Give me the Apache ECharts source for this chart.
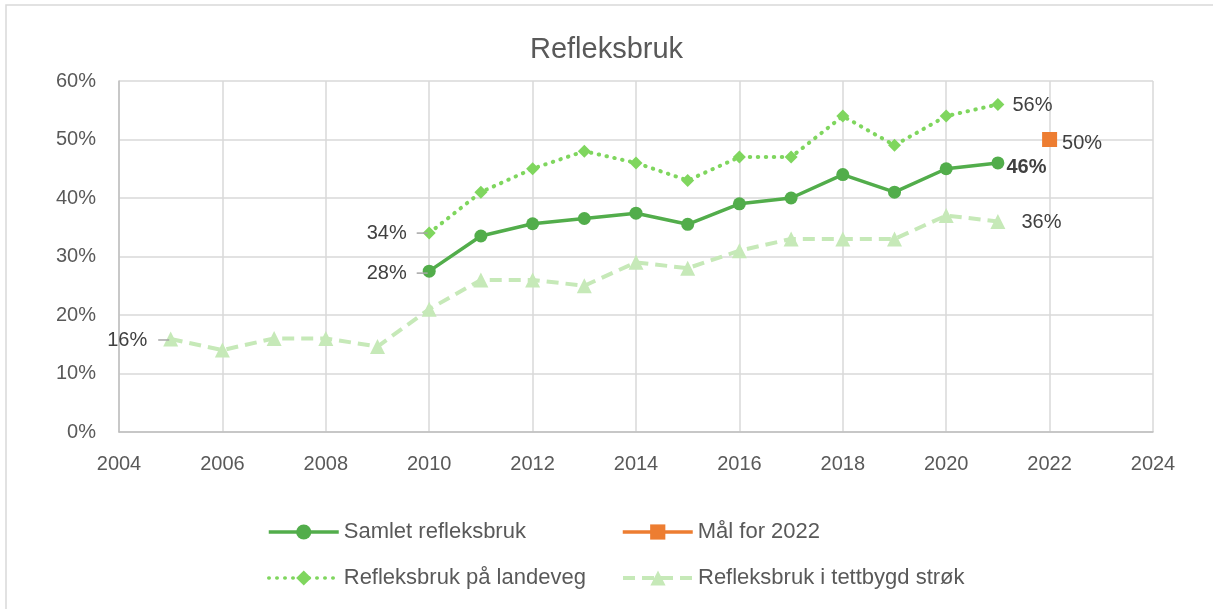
<!DOCTYPE html>
<html>
<head>
<meta charset="utf-8">
<title>Refleksbruk</title>
<script src="https://cdn.jsdelivr.net/npm/echarts@6.0.0/dist/echarts.min.js"></script>
<style>
  html, body { margin: 0; padding: 0; background: #ffffff; }
  #main { width: 1213px; height: 609px; }
</style>
</head>
<body>
<div id="main"></div>
<script>
// årstall og verdier (prosent)
var aar_samlet = [2010, 2011, 2012, 2013, 2014, 2015, 2016, 2017, 2018, 2019, 2020, 2021];
var samlet = [27.5, 33.5, 35.6, 36.5, 37.4, 35.5, 39, 40, 44, 41, 45, 46];

var aar_landeveg = [2010, 2011, 2012, 2013, 2014, 2015, 2016, 2017, 2018, 2019, 2020, 2021];
var landeveg = [34, 41, 45, 48, 46, 43, 47, 47, 54, 49, 54, 56];

var aar_tettbygd = [2005, 2006, 2007, 2008, 2009, 2010, 2011, 2012, 2013, 2014, 2015, 2016, 2017, 2018, 2019, 2020, 2021];
var tettbygd = [15.9, 14, 16, 16, 14.6, 21, 26, 26, 25, 29, 28, 31, 33, 33, 33, 37, 36];

var aar_maal = [2022];
var maal = [50];

var navn = ['Samlet refleksbruk', 'Mål for 2022', 'Refleksbruk på landeveg', 'Refleksbruk i tettbygd strøk'];

var fnt = 'Liberation Sans';

// etikett for ett punkt (strek = liten grå linje mot punktet)
function lbl(pos, dist, dy, bold, strek) {
  return {
    show: true,
    position: pos,
    distance: dist,
    offset: [0, dy],
    fontFamily: fnt,
    fontSize: 20,
    color: '#404040',
    fontWeight: bold ? 'bold' : 'normal',
    formatter: function (p) {
      var t = Math.round(p.value[1]) + '%';
      return strek ? '{t|' + t + '}{g|}{l|}' : t;
    },
    rich: {
      t: { fontFamily: fnt, fontSize: 20, color: '#404040', verticalAlign: 'middle' },
      g: { width: strek || 0, height: 2 },
      l: { width: 11, height: 1.5, backgroundColor: '#a6a6a6', verticalAlign: 'middle' }
    }
  };
}

// lager datapunkter, med etikett der det trengs
function lagData(aar, verdier, etiketter) {
  var ut = [];
  for (var i = 0; i < aar.length; i++) {
    var p = { value: [aar[i], verdier[i]] };
    if (etiketter[aar[i]]) p.label = etiketter[aar[i]];
    ut.push(p);
  }
  return ut;
}

function legende(n, x, y, bredde) {
  return {
    data: [n],
    left: x,
    top: y,
    padding: 0,
    itemWidth: 70,
    itemHeight: 19,
    selectedMode: false,
    lineStyle: { width: bredde },
    textStyle: { fontFamily: fnt, fontSize: 22, color: '#595959' }
  };
}

var myChart = echarts.init(document.getElementById('main'));
var option = {
  backgroundColor: '#ffffff',
  animation: false,
  title: {
    text: 'Refleksbruk',
    left: 'center',
    top: 30,
    textStyle: { fontFamily: fnt, fontSize: 29, fontWeight: 'normal', color: '#595959' }
  },
  graphic: [{
    type: 'rect',
    shape: { x: 6, y: 5, width: 1400, height: 800 },
    style: { fill: 'none', stroke: '#d9d9d9', lineWidth: 1.5 },
    silent: true
  }],
  legend: [
    legende(navn[0], 267, 521, 3.5),
    legende(navn[1], 621, 521, 3.5),
    legende(navn[2], 267, 567, 3.5),
    legende(navn[3], 621, 567, 4)
  ],
  grid: { left: 119, right: 60, top: 81, bottom: 177 },
  xAxis: {
    type: 'value',
    min: 2004,
    max: 2024,
    interval: 2,
    axisLine: { show: true, lineStyle: { color: '#bfbfbf', width: 1.5 } },
    axisTick: { show: false },
    splitLine: { show: true, lineStyle: { color: '#d9d9d9', width: 1.5 } },
    axisLabel: {
      fontFamily: fnt, fontSize: 20, color: '#595959', margin: 22,
      formatter: function (v) { return String(v); }
    }
  },
  yAxis: {
    type: 'value',
    min: 0,
    max: 60,
    interval: 10,
    axisLine: { show: true, lineStyle: { color: '#bfbfbf', width: 1.5 } },
    axisTick: { show: false },
    splitLine: { show: true, lineStyle: { color: '#d9d9d9', width: 1.5 } },
    axisLabel: { fontFamily: fnt, fontSize: 20, color: '#595959', margin: 23, formatter: '{value}%' }
  },
  series: [
    {
      name: navn[3],
      type: 'line',
      z: 2,
      symbol: 'triangle',
      symbolSize: 15,
      itemStyle: { color: '#c6e9b8' },
      lineStyle: { color: '#c6e9b8', width: 4, type: [12, 7] },
      data: lagData(aar_tettbygd, tettbygd, {
        2005: lbl('left', -6, 1, false, 11),
        2021: lbl('right', 16, 1)
      })
    },
    {
      name: navn[2],
      type: 'line',
      z: 3,
      symbol: 'diamond',
      symbolSize: 13,
      itemStyle: { color: '#7fd65e' },
      lineStyle: { color: '#7fd65e', width: 4, type: [0.5, 7.5], cap: 'round' },
      data: lagData(aar_landeveg, landeveg, {
        2010: lbl('left', -5, 0, false, 10),
        2021: lbl('right', 8, 1)
      })
    },
    {
      name: navn[0],
      type: 'line',
      z: 4,
      symbol: 'circle',
      symbolSize: 13,
      itemStyle: { color: '#52ad4b' },
      lineStyle: { color: '#52ad4b', width: 3.5 },
      data: lagData(aar_samlet, samlet, {
        2010: lbl('left', -5, 2, false, 10),
        2021: lbl('right', 2, 5, true)
      })
    },
    {
      name: navn[1],
      type: 'line',
      z: 5,
      symbol: 'rect',
      symbolSize: 15,
      itemStyle: { color: '#ed7d31' },
      lineStyle: { color: '#ed7d31', width: 3.5 },
      data: lagData(aar_maal, maal, {
        2022: lbl('right', 5, 4)
      })
    }
  ]
};
myChart.setOption(option);
</script>
</body>
</html>
